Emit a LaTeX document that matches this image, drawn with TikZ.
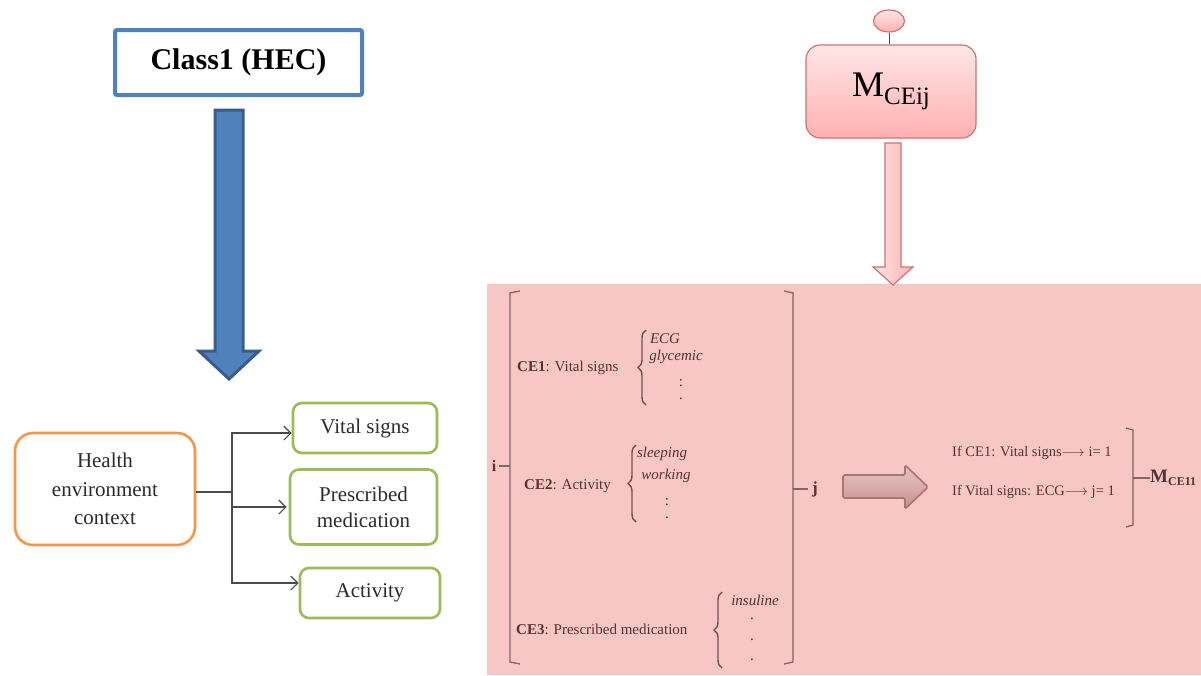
\documentclass[tikz,border=0pt]{standalone}
\usepackage{fontspec}
\setmainfont{Liberation Serif}
\usetikzlibrary{arrows.meta,decorations.pathreplacing,shapes.geometric,calc}

\definecolor{hecblue}{HTML}{4F81BD}
\definecolor{hecbluedark}{HTML}{385D8A}
\definecolor{ctxorange}{HTML}{F79646}
\definecolor{leafgreen}{HTML}{9BBB59}
\definecolor{panelpink}{HTML}{F9C6C6}
\definecolor{inkbrown}{HTML}{553333}
\definecolor{mred}{HTML}{C0504D}
\definecolor{rosetop}{HTML}{FFE6E6}
\definecolor{rosebot}{HTML}{FFB0B0}
\definecolor{darktext}{HTML}{2B2B2B}
\definecolor{mauvetop}{HTML}{E6C0C0}
\definecolor{mauvemid}{HTML}{D9ABAB}
\definecolor{mauvebot}{HTML}{C48E8E}
\definecolor{mauveedge}{HTML}{A87474}

\begin{document}
\begin{tikzpicture}[x=1pt,y=-1pt,
  classbox/.style={draw=hecblue, line width=4pt, fill=white, rounded corners=2pt,
    font=\bfseries\fontsize{30}{34}\selectfont, text=black},
  bluearrow/.style={fill=hecblue, draw=hecbluedark, line width=3pt, line join=miter},
  ctxbox/.style={draw=ctxorange, line width=2.6pt, fill=white, rounded corners=18pt,
    align=center, text=darktext, font=\fontsize{21}{28.5}\selectfont},
  leafbox/.style={draw=leafgreen, line width=2.6pt, fill=white, rounded corners=9pt,
    align=center, text=darktext, font=\fontsize{21}{26}\selectfont},
  branch/.style={draw=darktext!85, line width=1.2pt},
  branchtip/.style={branch, -{Straight Barb[length=7pt,width=14pt,line width=1.2pt]}},
  roseshade/.style={top color=rosetop, bottom color=rosebot, draw=mred!80, line width=1.2pt},
  pnl/.style={text=inkbrown, font=\fontsize{15}{18}\selectfont, inner sep=0pt},
  itm/.style={text=inkbrown, font=\itshape\fontsize{15}{18}\selectfont, inner sep=0pt},
  rule/.style={text=inkbrown, font=\fontsize{14.5}{16}\selectfont, inner sep=0pt},
  brk/.style={draw=inkbrown!75, line width=1.3pt},
  brc/.style={draw=inkbrown!85, line width=1.4pt, decorate, decoration={brace, amplitude=8pt}},
  fatarrow/.style={top color=mauvetop, bottom color=mauvebot, middle color=mauvemid,
    draw=mauveedge, line width=1.6pt, rounded corners=1.5pt}
]
\useasboundingbox (0,0) rectangle (1201,675);

% ---------- left: class and its context tree ----------
\node[classbox, minimum width=247pt, minimum height=65pt] (class) at (238.5,62.5) {Class1 (HEC)};
\draw[bluearrow] (215,110) -- (243,110) -- (243,351) -- (259,351) -- (229,379)
  -- (199,351) -- (215,351) -- cycle;

\node[ctxbox, minimum width=180pt, minimum height=112pt] (health) at (105,489)
  {Health\\environment\\context};
\node[leafbox, minimum width=144pt, minimum height=50pt] (vital) at (365,428) {Vital signs};
\node[leafbox, minimum width=147pt, minimum height=75pt] (presc) at (363.5,507) {Prescribed\\medication};
\node[leafbox, minimum width=140pt, minimum height=50pt] (activ) at (370,593) {Activity};

\coordinate (split) at (232,492);
\draw[branch] (health.east |- split) -- (split);
\draw[branchtip] (split) |- ([yshift=-5pt]vital.west);
\draw[branchtip] (split) |- ([xshift=-2pt]presc.west);
\draw[branchtip] (split) |- ([yshift=10pt]activ.west);

% ---------- right: matrix element and its panel ----------
\node[ellipse, roseshade, minimum width=31pt, minimum height=22pt, inner sep=0pt] (tag) at (889,21) {};
\node[roseshade, rounded corners=14pt, minimum width=170pt, minimum height=93pt] (mce) at (891,91.5)
  {{\fontsize{36}{40}\selectfont M}{\fontsize{25}{28}\selectfont\raisebox{-8pt}{CEij}}};
\draw[draw=mred!70!black, line width=1pt] (tag.south) -- (tag.south |- mce.north);

\fill[panelpink] (487,284) rectangle (1201,675);

\draw[roseshade, shading angle=90, line join=miter] (885,143) -- (901,143) -- (901,267) -- (913,267)
  -- (893,285) -- (873,267) -- (885,267) -- cycle;

% outer bracket pair
\draw[brk] (520,291) -- (510,293) -- (510,662) -- (520,664);
\draw[brk] (784,291) -- (793,293) -- (793,662) -- (784,664);
\node[pnl, font=\bfseries\fontsize{16}{18}\selectfont] (ilab) at (494,466) {i};
\draw[brk] ([xshift=3pt]ilab.east) -- (510,466);
\node[pnl, font=\bfseries\fontsize{17}{18}\selectfont] (jlab) at (815,489) {j};
\coordinate (rbmid) at (793,489);
\draw[brk] (rbmid) -- ([xshift=-4pt]jlab.west);

% CE1
\node[pnl, anchor=west] (ce1) at (517,368) {\textbf{CE1}: Vital signs};
\draw[brc] (646,405) -- (646,330);
\node[itm] (ecg) at (665,339) {ECG};
\node[itm] (gly) at (676,357) {glycemic};
\node[pnl] (d11) at (681,383) {:};
\node[pnl] (d12) at (681,399) {.};

% CE2
\node[pnl, anchor=west] (ce2) at (524,486) {\textbf{CE2}: Activity};
\draw[brc] (636,522) -- (636,445);
\node[itm] (slp) at (662,454) {sleeping};
\node[itm] (wrk) at (666,476) {working};
\node[pnl] (d21) at (667,502) {:};
\node[pnl] (d22) at (667,518) {.};

% CE3
\node[pnl, anchor=west] (ce3) at (516,629) {\textbf{CE3}: Prescribed medication};
\draw[brc] (722,668) -- (722,592);
\node[itm] (ins) at (755,600) {insuline};
\node[pnl] (d31) at (752,619) {.};
\node[pnl] (d32) at (752,640) {.};
\node[pnl] (d33) at (752,660) {.};

% transformation to the matrix entry
\draw[fatarrow] (843,475) -- (905,475) -- (905,465) -- (928,487) -- (905,509)
  -- (905,498) -- (843,498) -- cycle;
\node[rule, anchor=west] (r1) at (952,453) {If CE1: Vital signs$\longrightarrow$ i= 1};
\node[rule, anchor=west] (r2) at (952,492) {If Vital signs: ECG$\longrightarrow$ j= 1};
\draw[brk] (1126,428) -- (1133,430) -- (1133,525) -- (1126,527);
\node[pnl, anchor=west, font=\bfseries\fontsize{19}{20}\selectfont] (mres) at (1150,478)
  {M\raisebox{-3pt}{\fontsize{12}{14}\selectfont CE11}};
\coordinate (smallbr) at (1133,478);
\draw[brk] (smallbr) -- (mres.west);
\end{tikzpicture}
\end{document}
